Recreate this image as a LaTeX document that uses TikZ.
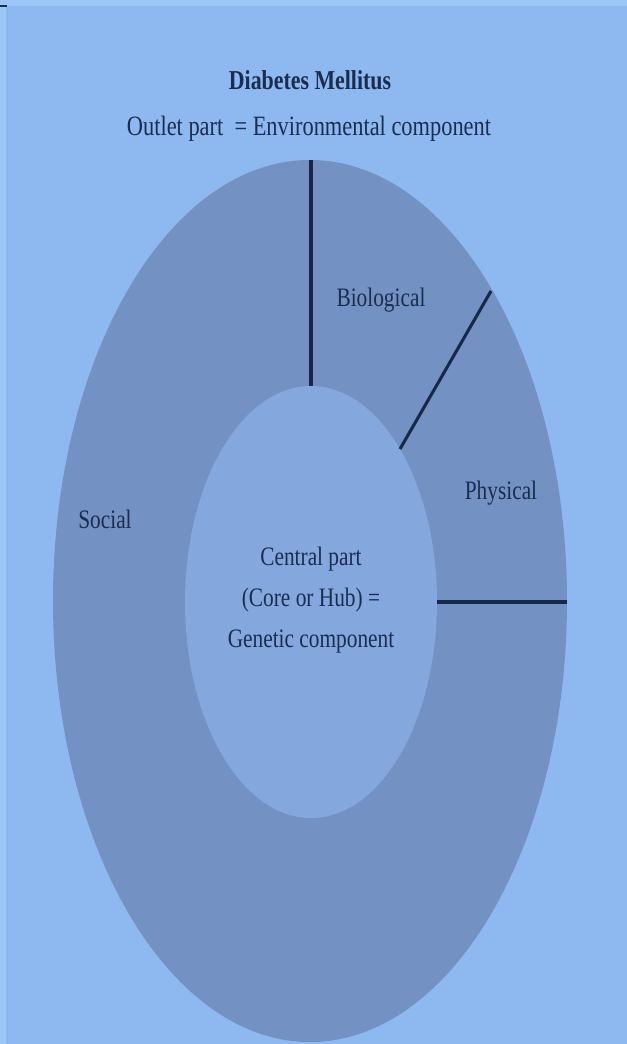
\documentclass[tikz,border=0pt]{standalone}
\usepackage{fontspec}
\setmainfont[FakeStretch=0.8]{Liberation Serif}
\definecolor{bg}{HTML}{8EB9F0}
\definecolor{ring}{HTML}{7391C2}
\definecolor{core}{HTML}{84A8DE}
\definecolor{ink}{HTML}{1B2D4F}
\definecolor{edge}{HTML}{9CC6F6}
\begin{document}
\begin{tikzpicture}[x=0.75pt,y=-0.75pt,
  lbl/.style={text=ink,font=\fontsize{20}{24}\selectfont,inner sep=0pt},
  sep/.style={draw=ink!90!black,line width=2.3pt}]
\useasboundingbox (0,0) rectangle (627,1044);
\fill[bg] (0,0) rectangle (627,1044);
\fill[edge] (0,0) rectangle (627,6);
\fill[edge] (0,0) rectangle (6,1044);
\draw[ink,line width=1.5pt] (0,6) -- (7,6);
% rings
\fill[ring] (310,601) ellipse [x radius=257,y radius=441];
\fill[core] (311,602) ellipse [x radius=126,y radius=216];
\coordinate (outtop) at (311,160);
\coordinate (intop) at (311,386);
\coordinate (outdiag) at (491,291);
\coordinate (indiag) at (400,449);
\coordinate (inright) at (437,602);
\coordinate (outright) at (567,602);
\draw[sep] (outtop) -- (intop);
\draw[sep] (outdiag) -- (indiag);
\draw[sep] (inright) -- (outright);
% texts
\node[lbl,font=\fontsize{20.5}{24}\selectfont\bfseries] (title) at (310,80) {Diabetes Mellitus};
\node[lbl,font=\fontsize{21}{24}\selectfont] (outlet) at (309,129) {Outlet part \ = Environmental component};
\node[lbl] (bio) at (381,300) {Biological};
\node[lbl] (phy) at (501,493) {Physical};
\node[lbl] (soc) at (105,519) {Social};
\node[lbl,align=center,font=\fontsize{20}{31}\selectfont] (cen) at (311,600) {Central part\\(Core or Hub) =\\Genetic component};
\end{tikzpicture}
\end{document}
